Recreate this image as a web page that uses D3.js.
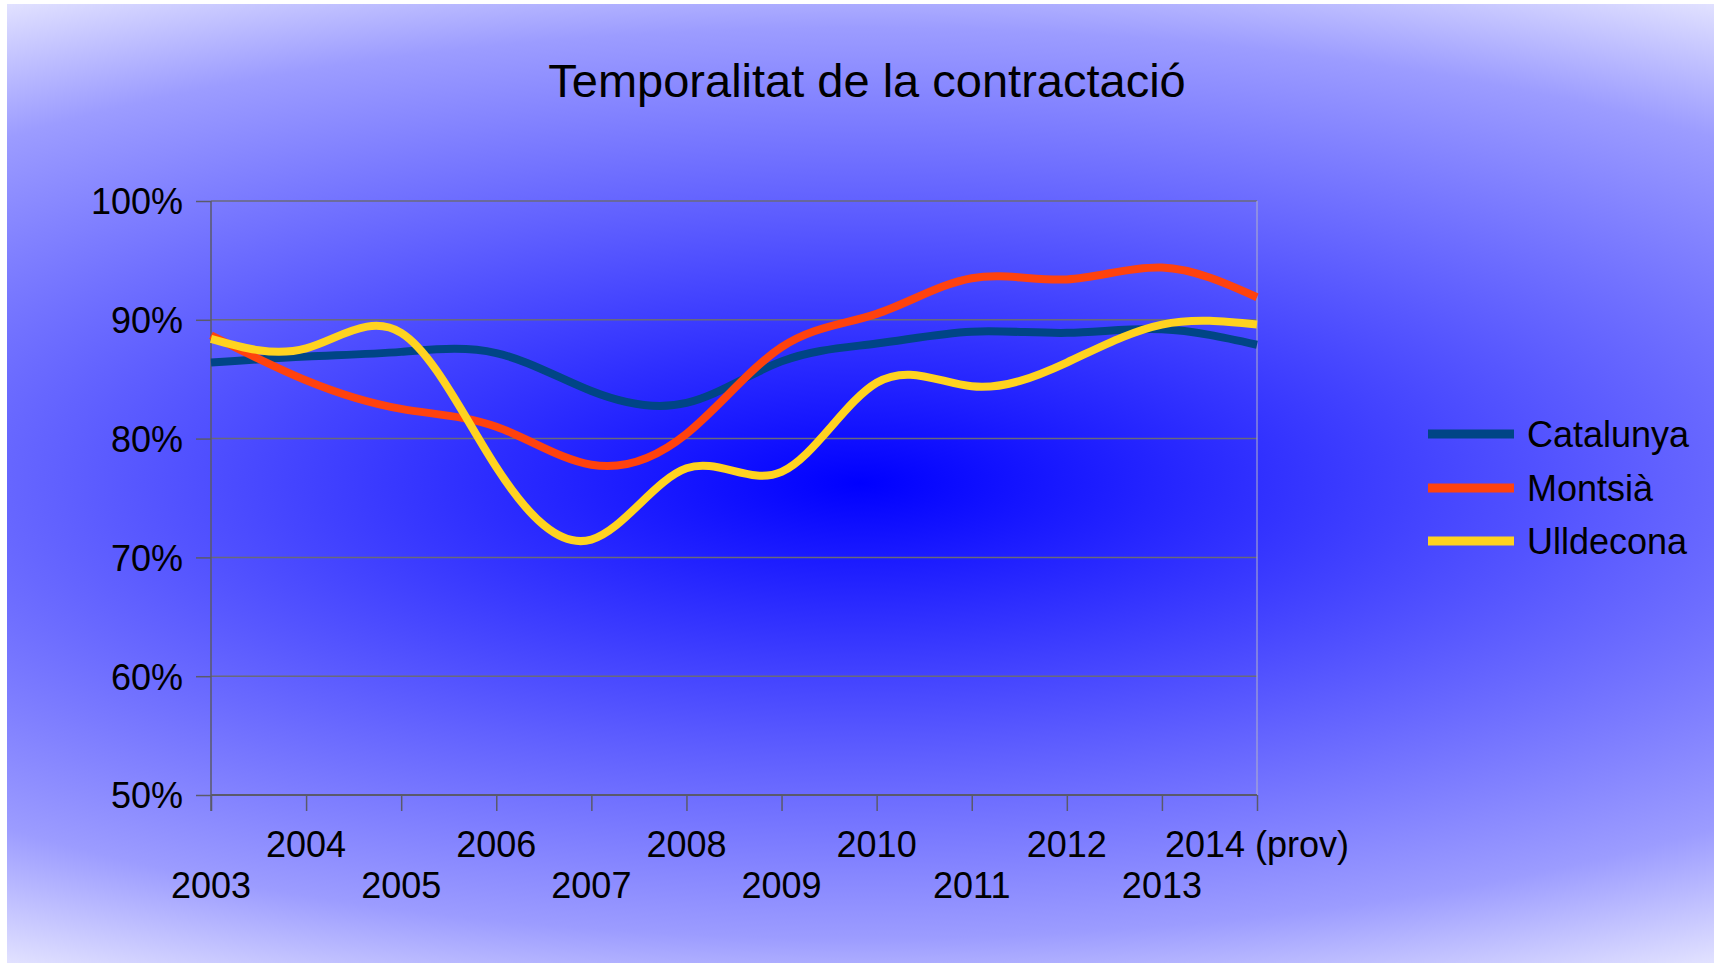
<!DOCTYPE html>
<html>
<head>
<meta charset="utf-8">
<script src="https://cdn.jsdelivr.net/npm/d3@7"></script>
<style>
  html, body { margin: 0; padding: 0; background: #ffffff; }
  svg { display: block; font-family: "Liberation Sans", Arial, sans-serif; }
</style>
</head>
<body>
<svg id="chart" width="1714" height="966"></svg>
<script>
// ---- Data ----
const years = ["2003", "2004", "2005", "2006", "2007", "2008", "2009", "2010", "2011", "2012", "2013", "2014 (prov)"];
const seriesNames = ["Catalunya", "Montsià", "Ulldecona"];
const catalunya = [86.4, 86.9, 87.3, 87.2, 84.0, 83.0, 86.5, 88.0, 89.0, 88.9, 89.2, 87.9];
const montsia   = [88.7, 84.9, 82.5, 81.0, 77.8, 80.4, 87.7, 90.5, 93.5, 93.4, 94.4, 91.9];
const ulldecona = [88.4, 87.6, 88.9, 77.6, 71.5, 77.5, 77.2, 84.7, 84.4, 86.4, 89.6, 89.6];
const yTicks = [50, 60, 70, 80, 90, 100];
const colors = ["#004586", "#ff420e", "#ffd320"];
const chartTitle = "Temporalitat de la contractació";

(function () {
const allSeries = [catalunya, montsia, ulldecona];

const svg = d3.select("#chart");
const W = 1714, H = 966;

// ---- Background ----
const defs = svg.append("defs");
const cx = 860, cy = 483;
const grad = defs.append("radialGradient")
  .attr("id", "bg")
  .attr("gradientUnits", "userSpaceOnUse")
  .attr("cx", cx).attr("cy", cy).attr("r", 2000)
  .attr("fx", cx).attr("fy", cy)
  .attr("gradientTransform", `translate(${cx},${cy}) scale(1,0.3475) translate(${-cx},${-cy})`);
[[0, "rgb(0,0,255)"], [0.4, "rgb(96,96,255)"], [0.655, "rgb(156,156,255)"],
 [0.81, "rgb(225,225,255)"], [1, "rgb(242,242,255)"]].forEach(([o, c]) =>
  grad.append("stop").attr("offset", o).attr("stop-color", c));

svg.append("rect").attr("x", 0).attr("y", 0).attr("width", W).attr("height", H).attr("fill", "#ffffff");
svg.append("rect").attr("x", 7).attr("y", 4).attr("width", W - 7).attr("height", 959).attr("fill", "url(#bg)");

// ---- Plot geometry ----
const pL = 211, pR = 1257, pT = 201, pB = 795;

const x = d3.scalePoint().domain(years).range([pL, pR]);
const y = d3.scaleLinear().domain([50, 100]).range([pB, pT]);

// gridlines
const g = svg.append("g");
g.selectAll("line.grid").data(yTicks).enter().append("line")
  .attr("class", "grid")
  .attr("x1", pL).attr("x2", pR)
  .attr("y1", d => y(d)).attr("y2", d => y(d))
  .attr("stroke", "#6a6a7a").attr("stroke-width", 1.5);

// right border
g.append("line").attr("x1", pR).attr("x2", pR).attr("y1", pT).attr("y2", pB)
  .attr("stroke", "#b3b3c8").attr("stroke-width", 1);

// Y axis
const yAxis = d3.axisLeft(y).tickValues(yTicks).tickSize(15).tickPadding(13)
  .tickFormat(d => d + "%");
const yg = svg.append("g").attr("transform", `translate(${pL},0)`).call(yAxis);
yg.select(".domain").attr("stroke", "#5a5a6a").attr("stroke-width", 1.5)
  .attr("d", `M0,${pT}V${pB + 16}`);
yg.selectAll(".tick line").attr("stroke", "#5a5a6a").attr("stroke-width", 1.5);
yg.selectAll(".tick text").attr("font-size", 36).attr("fill", "#000")
  .attr("font-family", "'Liberation Sans', Arial, sans-serif")
  .attr("dy", "0.36em");

// X axis
const xAxis = d3.axisBottom(x).tickSize(16).tickFormat(() => "");
const xg = svg.append("g").attr("transform", `translate(0,${pB})`).call(xAxis);
xg.select(".domain").attr("stroke", "#5a5a6a").attr("stroke-width", 2).attr("d", `M${pL},0H${pR}`);
xg.selectAll(".tick line").attr("stroke", "#5a5a6a").attr("stroke-width", 1.5);

// staggered x labels
svg.append("g").selectAll("text").data(years).enter().append("text")
  .attr("x", d => x(d))
  .attr("y", (d, i) => i % 2 === 1 ? 857 : 898)
  .attr("text-anchor", "middle")
  .attr("font-size", 36).attr("fill", "#000")
  .text(d => d);

// ---- Lines ----
const line = d3.line()
  .x((d, i) => x(years[i]))
  .y(d => y(d))
  .curve(d3.curveNatural);

svg.append("g").selectAll("path").data(allSeries).enter().append("path")
  .attr("d", d => line(d))
  .attr("fill", "none")
  .attr("stroke", (d, i) => colors[i])
  .attr("stroke-width", 8)
  .attr("stroke-linejoin", "round");

// ---- Title ----
svg.append("text")
  .attr("x", 867).attr("y", 97)
  .attr("text-anchor", "middle")
  .attr("font-size", 47).attr("fill", "#000")
  .text(chartTitle);

// ---- Legend ----
const legendY = [434, 488, 541];
const lg = svg.append("g");
seriesNames.forEach((name, i) => {
  lg.append("line")
    .attr("x1", 1428).attr("x2", 1514)
    .attr("y1", legendY[i]).attr("y2", legendY[i])
    .attr("stroke", colors[i]).attr("stroke-width", 9);
  lg.append("text")
    .attr("x", 1527).attr("y", legendY[i] + 13)
    .attr("font-size", 36).attr("fill", "#000")
    .text(name);
});
})();
</script>
</body>
</html>
